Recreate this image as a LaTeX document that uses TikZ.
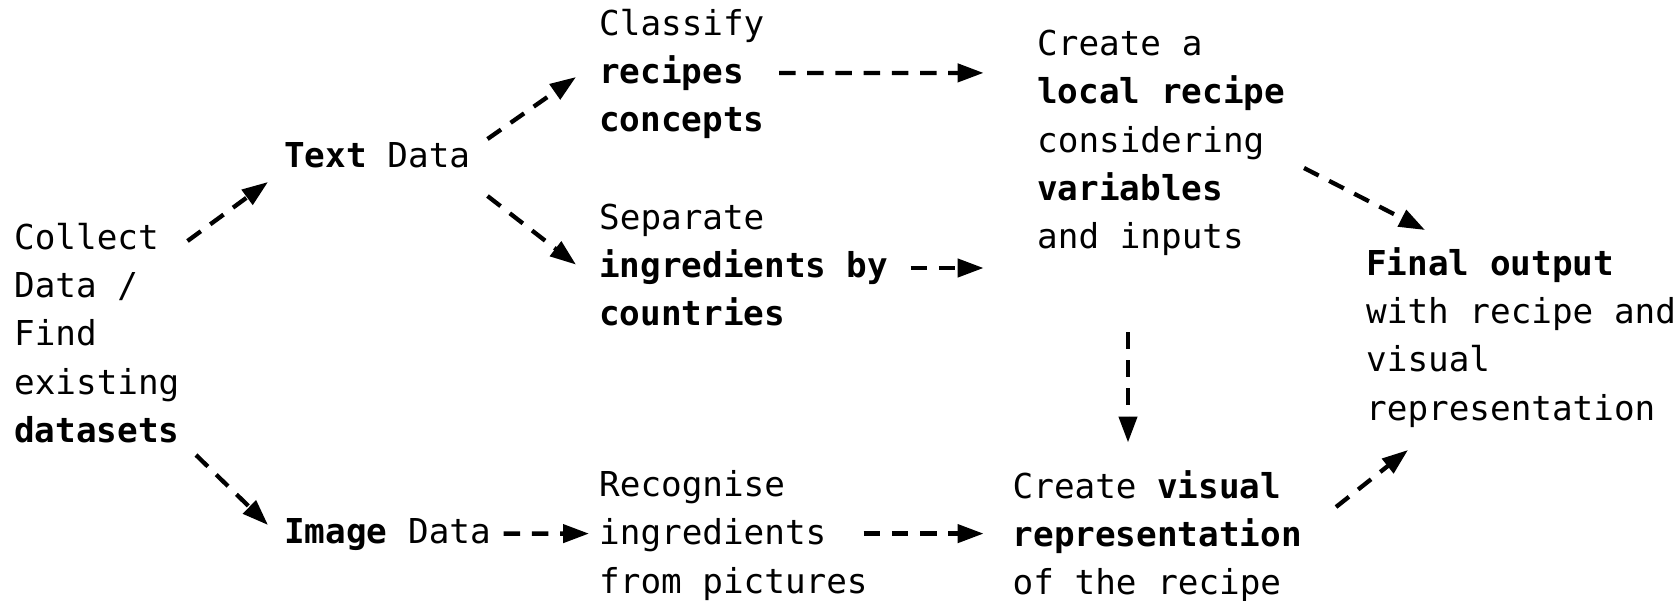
\documentclass[tikz,border=0pt]{standalone}
\usepackage{fontspec}
\setmainfont{DejaVu Sans Mono}
\usetikzlibrary{arrows.meta}
\tikzset{
  txt/.style={anchor=north west, inner sep=0pt, align=left, font=\fontsize{34.3}{48.2}\selectfont},
  arr/.style={line width=4.3pt, dash pattern=on 16.5pt off 11.7pt, -{Triangle[length=26pt,width=18pt]}}
}
\begin{document}
\begin{tikzpicture}[x=1pt,y=-1pt]
\useasboundingbox (0,0) rectangle (1680,600);
\node[txt] (collect) at (14,223) {Collect\\Data /\\Find\\existing\\\textbf{datasets}};
\node[txt] (text) at (284,142.5) {\textbf{Text} Data};
\node[txt] (image) at (284,518.6) {\textbf{Image} Data};
\node[txt] (classify) at (599,8.6) {Classify\\\textbf{recipes}\\\textbf{concepts}};
\node[txt] (separate) at (599,203.6) {Separate\\\textbf{ingredients by}\\\textbf{countries}};
\node[txt] (recognise) at (599,470.4) {Recognise\\ingredients\\from pictures};
\node[txt] (local) at (1037,30) {Create a\\\textbf{local recipe}\\considering\\\textbf{variables}\\and inputs};
\node[txt] (visual) at (1012.5,470.4) {Create \textbf{visual}\\\textbf{representation}\\of the recipe};
\node[txt] (final) at (1366,247.5) {\textbf{Final output}\\with recipe and\\visual\\representation};

\draw[arr] ([shift={(173.5,18)}]collect.north west) -- ([shift={(-16,39.5)}]text.north west);
\draw[arr] ([shift={(182,232)}]collect.north west) -- ([shift={(-16,6.4)}]image.north west);
\draw[arr] ([shift={(203.5,-3.5)}]text.north west) -- ([shift={(-23,68.4)}]classify.north west);
\draw[arr] ([shift={(203.5,53.5)}]text.north west) -- ([shift={(-23,61)}]separate.north west);
\draw[arr] ([shift={(219.6,15)}]image.north west) -- ([shift={(-10,63.2)}]recognise.north west);
\draw[arr] ([shift={(180,64.3)}]classify.north west) -- ([shift={(-53.4,42.9)}]local.north west);
\draw[arr] ([shift={(311.7,64.4)}]separate.north west) -- ([shift={(-53.4,238)}]local.north west);
\draw[arr] ([shift={(264.6,63.2)}]recognise.north west) -- ([shift={(-28.9,63.2)}]visual.north west);
\draw[arr] ([shift={(91,302)}]local.north west) -- ([shift={(115.5,-27.9)}]visual.north west);
\draw[arr] ([shift={(267,138)}]local.north west) -- ([shift={(59,-17.5)}]final.north west);
\draw[arr] ([shift={(323.5,36.6)}]visual.north west) -- ([shift={(42,202.5)}]final.north west);
\end{tikzpicture}
\end{document}
